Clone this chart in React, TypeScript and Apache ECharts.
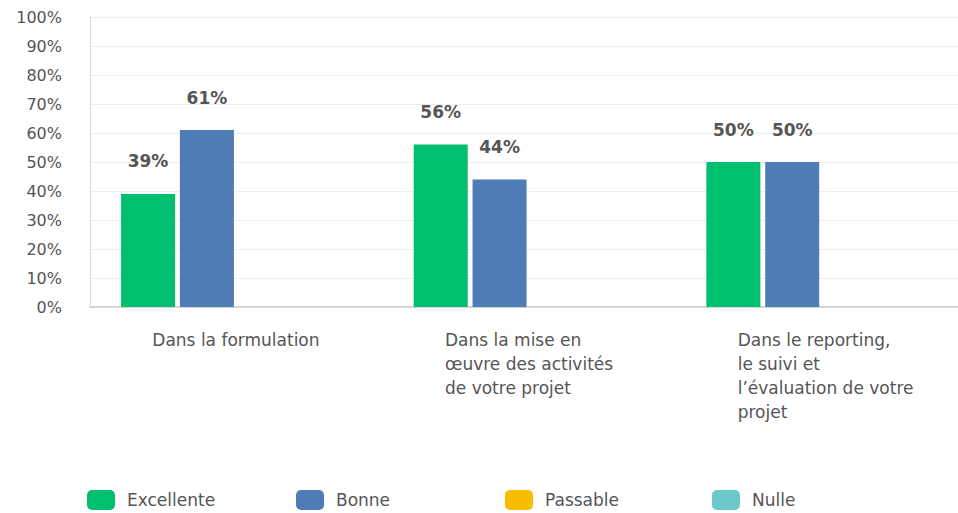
import React, { useEffect, useRef } from "react";
import * as echarts from "echarts";

const categories = [
  "Dans la formulation",
  "Dans la mise en\nœuvre des activités\nde votre projet",
  "Dans le reporting,\nle suivi et\nl’évaluation de votre\nprojet",
];
const seriesNames = ["Excellente", "Bonne", "Passable", "Nulle"];
const excellente = [39, 56, 50];
const bonne = [61, 44, 50];
const passable = [0, 0, 0];
const nulle = [0, 0, 0];
const colors = ["#00BF6F", "#507CB6", "#F9BE00", "#6BC8CD"];
const legendLefts = [82, 291, 500, 707];

const FONT = "DejaVu Sans";

export default function App() {
  const ref = useRef<HTMLDivElement>(null);
  useEffect(() => {
    if (!ref.current) return;
    const chart = echarts.init(ref.current, null, { renderer: "svg" });
    const values = [excellente, bonne, passable, nulle];
    chart.setOption({
      animation: false,
      backgroundColor: "#ffffff",
      color: colors,
      grid: { left: 90, right: 0, top: 17, bottom: 206, containLabel: false },
      legend: seriesNames.map((name, i) => ({
        left: legendLefts[i],
        top: 485,
        itemWidth: 28,
        itemHeight: 20,
        icon: "roundRect",
        data: [name],
        selectedMode: false,
        textStyle: {
          fontFamily: FONT,
          fontSize: 17,
          color: "#555555",
          padding: [0, 0, 0, 7],
        },
      })),
      xAxis: {
        type: "category",
        data: categories,
        axisTick: { show: false },
        axisLine: { lineStyle: { color: "#cccccc", width: 1.5 } },
        axisLabel: {
          interval: 0,
          margin: 21,
          align: "center",
          formatter: (v: string) =>
            v
              .split("\n")
              .map((l) => `{a|${l}}`)
              .join("\n"),
          rich: {
            a: {
              width: 168,
              align: "left",
              fontFamily: FONT,
              fontSize: 17,
              lineHeight: 24,
              color: "#555555",
            },
          },
        },
      },
      yAxis: {
        type: "value",
        min: 0,
        max: 100,
        interval: 10,
        axisLine: { show: true, lineStyle: { color: "#dddddd" } },
        axisTick: { show: false },
        splitLine: { lineStyle: { color: "#eeeeee" } },
        axisLabel: {
          formatter: "{value}%",
          margin: 28,
          fontFamily: FONT,
          fontSize: 16,
          color: "#555555",
        },
      },
      series: seriesNames.map((name, i) => ({
        name,
        type: "bar",
        data: values[i],
        barWidth: 54,
        barGap: "9%",
        itemStyle: { color: colors[i] },
        label: {
          show: i < 2,
          position: "top",
          distance: 24,
          formatter: "{c}%",
          fontFamily: FONT,
          fontSize: 17,
          fontWeight: "bold",
          color: "#555555",
        },
      })),
    });
    return () => chart.dispose();
  }, []);
  return (
    <div
      style={{
        position: "absolute",
        left: 0,
        top: 0,
        width: 958,
        height: 513,
        overflow: "hidden",
      }}
    >
      <div ref={ref} style={{ width: 968, height: 513 }} />
    </div>
  );
}
